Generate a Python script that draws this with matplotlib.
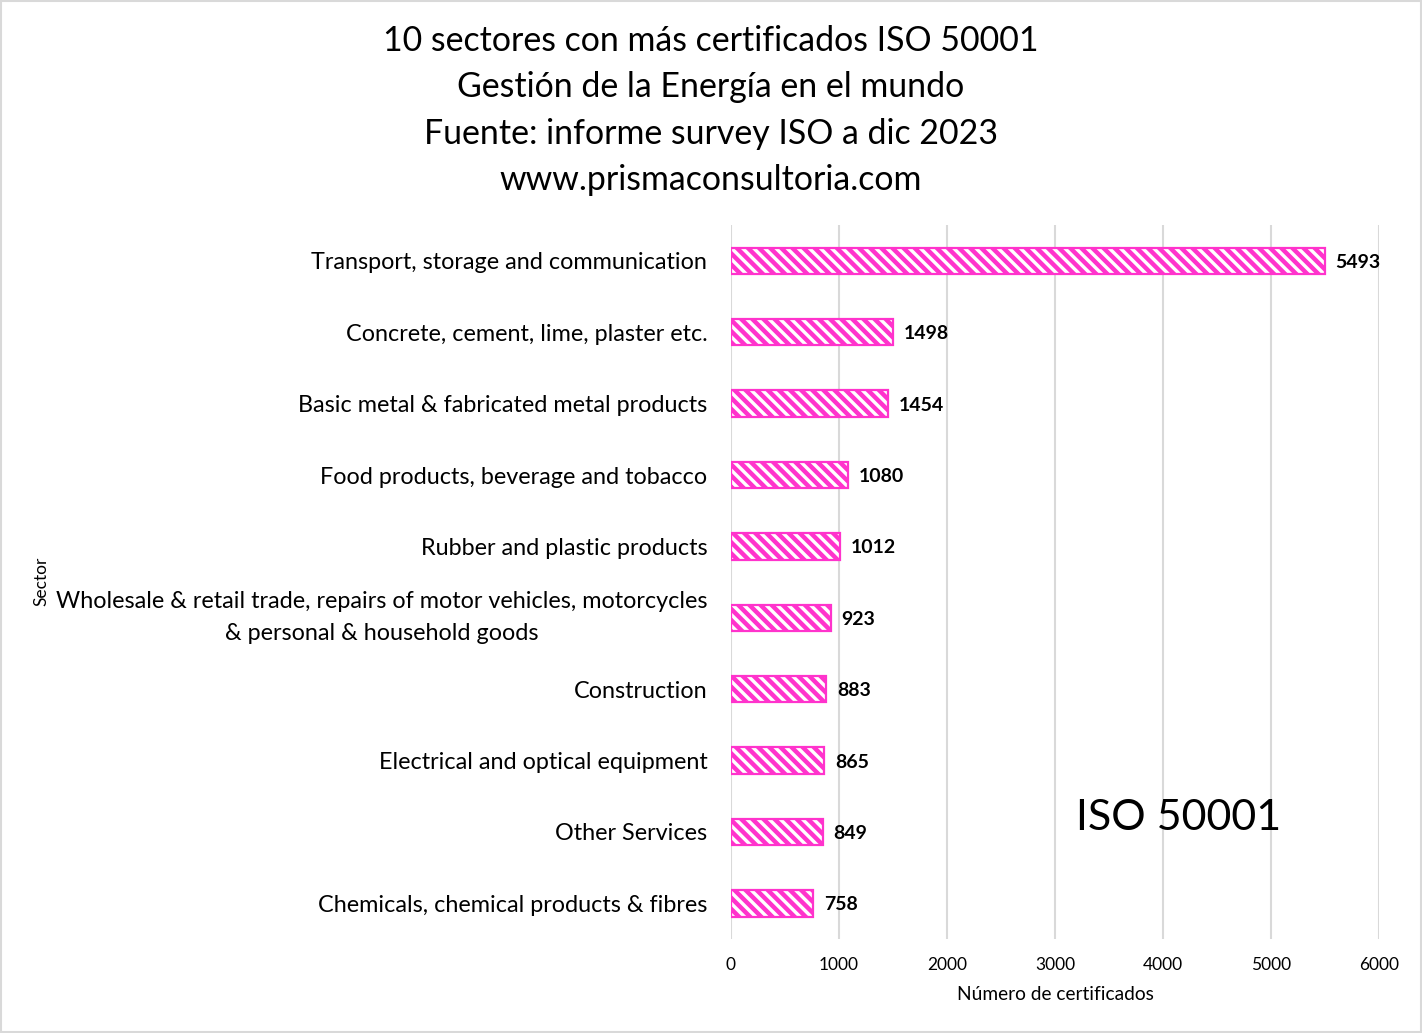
import matplotlib.pyplot as plt

sectors = [
    "Transport, storage and communication",
    "Concrete, cement, lime, plaster etc.",
    "Basic metal & fabricated metal products",
    "Food products, beverage and tobacco",
    "Rubber and plastic products",
    "Wholesale & retail trade, repairs of motor vehicles, motorcycles\n& personal & household goods",
    "Construction",
    "Electrical and optical equipment",
    "Other Services",
    "Chemicals, chemical products & fibres",
]
certs = [5493, 1498, 1454, 1080, 1012, 923, 883, 865, 849, 758]
xticks = [0, 1000, 2000, 3000, 4000, 5000, 6000]

pink = '#FF33CC'
plt.rcParams['font.family'] = ['Lato', 'DejaVu Sans']
plt.rcParams['hatch.linewidth'] = 3.2
plt.rcParams['hatch.color'] = pink

fig = plt.figure(figsize=(14.22, 10.33), dpi=100)
ax = fig.add_axes([0.514, 0.091, 0.456, 0.691])

ypos = list(range(len(sectors)))
ax.barh(ypos, certs, height=0.37, color='white', edgecolor=pink,
        linewidth=1.6, hatch='\\\\\\')
for y, v in zip(ypos, certs):
    ax.text(v + 100, y, str(v), va='center_baseline', ha='left', fontsize=14,
            fontweight='bold')

ax.set_ylim(len(sectors) - 0.5, -0.5)
ax.set_xlim(0, 6000)
ax.set_xticks(xticks)
ax.set_yticks(ypos)
ax.set_yticklabels(sectors, fontsize=16.8)
for lbl in ax.get_yticklabels():
    lbl.set_multialignment('center')
    lbl.set_linespacing(1.65)
    if '\n' in lbl.get_text():
        lbl.set_verticalalignment('center')
ax.tick_params(axis='x', labelsize=12.5, length=0, pad=13)
ax.tick_params(axis='y', length=0, pad=17)
ax.xaxis.grid(True, color='#D9D9D9', linewidth=1.5)
ax.set_axisbelow(True)
for s in ax.spines.values():
    s.set_visible(False)
ax.set_xlabel("Número de certificados", fontsize=13.8, labelpad=9)

fig.text(0.029, 0.437, "Sector", rotation=90, fontsize=12.5, va='center', ha='center')
ax.text(4140, 7.8, "ISO 50001", fontsize=31, ha='center', va='center')

fig.text(0.5, 0.893, "10 sectores con más certificados ISO 50001\n"
         "Gestión de la Energía en el mundo\n"
         "Fuente: informe survey ISO a dic 2023\n"
         "www.prismaconsultoria.com",
         ha='center', va='center', fontsize=24.4, linespacing=1.56)

fig.patches.append(plt.Rectangle((0.001, 0.001), 0.998, 0.998, transform=fig.transFigure,
                                 fill=False, edgecolor='#D9D9D9', linewidth=1.5))

fig.savefig('out.png', dpi=100)
